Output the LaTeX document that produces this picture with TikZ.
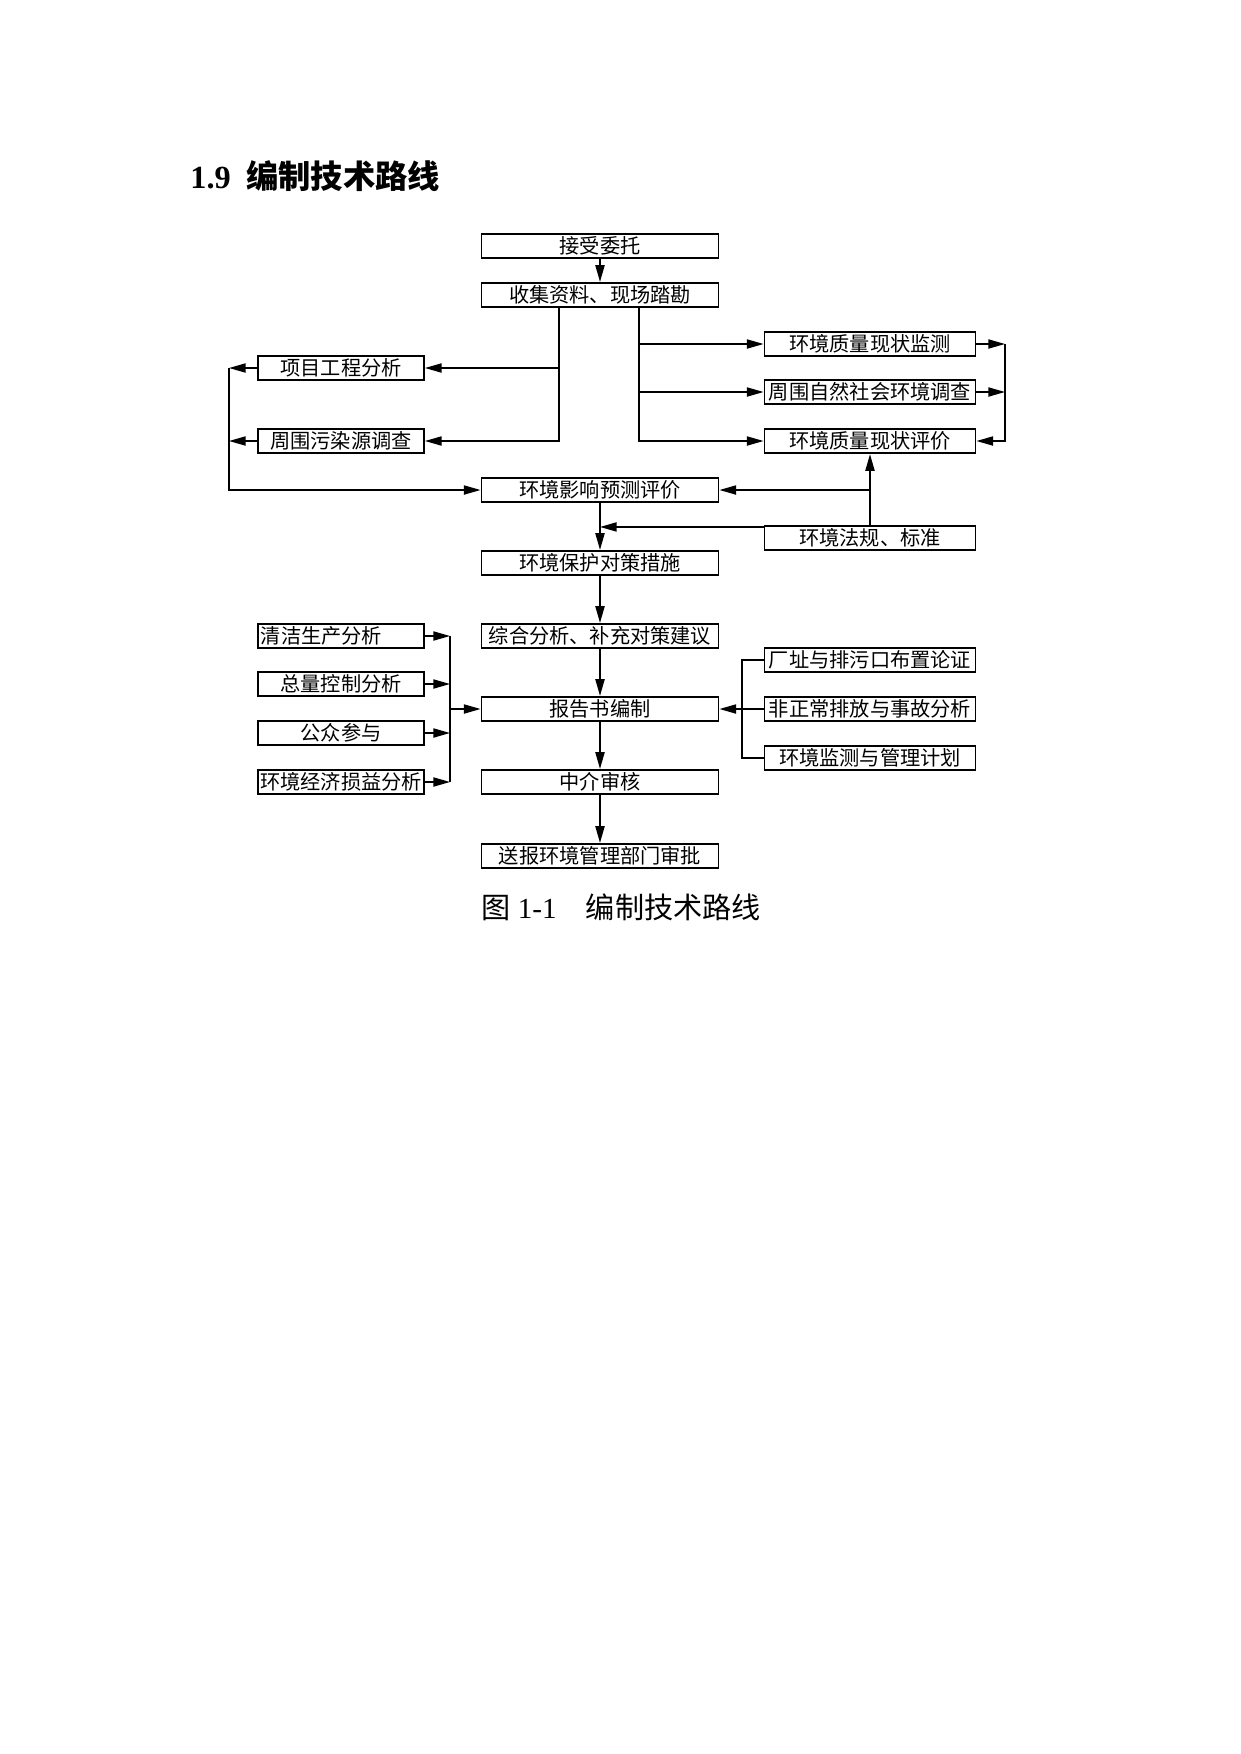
\documentclass[tikz,border=0pt]{standalone}
\usepackage{fontspec}
\setmainfont{Liberation Serif}
\newfontfamily\cjk{Noto Sans CJK SC}
\usetikzlibrary{arrows.meta}
\begin{document}
\begin{tikzpicture}[x=0.48pt,y=-0.48pt,
    box/.style={draw,line width=0.9pt,minimum height=11.7pt,inner sep=0pt,font=\cjk\fontsize{9.7}{11}\selectfont},
    cbox/.style={box,minimum width=113.8pt},
    lbox/.style={box,minimum width=79.7pt},
    rbox/.style={box,minimum width=101.3pt},
    link/.style={line width=0.7pt},
    >={Triangle[length=8pt,width=4.4pt]}]
    \useasboundingbox (0,0) rectangle (1241,1754);
    \node[anchor=west,inner sep=0pt,font=\fontsize{15.5}{18}\selectfont\bfseries] (title) at (190,176) {1.9\hspace{7.5pt}{\cjk 编制技术路线}};
    \node[cbox] (jswt) at (600,246) {接受委托};
    \node[cbox] (sjzl) at (600,295) {收集资料、现场踏勘};
    \node[lbox] (xmgc) at (341,368) {项目工程分析};
    \node[lbox] (wry) at (341,441) {周围污染源调查};
    \node[rbox] (zljc) at (870,344) {环境质量现状监测};
    \node[rbox] (zrsh) at (870,392) {周围自然社会环境调查};
    \node[rbox] (zlpj) at (870,441) {环境质量现状评价};
    \node[cbox] (yxyc) at (600,490) {环境影响预测评价};
    \node[rbox] (fgbz) at (870,538) {环境法规、标准};
    \node[cbox] (bhcs) at (600,563) {环境保护对策措施};
    \node[cbox] (zhfx) at (600,636) {综合分析、补充对策建议};
    \node[cbox] (bgs) at (600,709) {报告书编制};
    \node[cbox] (zjsh) at (600,782) {中介审核};
    \node[cbox] (sbsp) at (600,856) {送报环境管理部门审批};
    \node[lbox,text width=77pt,align=left,inner xsep=1.3pt] (qjsc) at (341,636) {清洁生产分析};
    \node[lbox] (zlkz) at (341,684) {总量控制分析};
    \node[lbox] (gzcy) at (341,733) {公众参与};
    \node[lbox] (jjsy) at (341,782) {环境经济损益分析};
    \node[rbox] (czlz) at (870,660) {厂址与排污口布置论证};
    \node[rbox] (fzc) at (870,709) {非正常排放与事故分析};
    \node[rbox] (jchj) at (870,758) {环境监测与管理计划};
    \node[anchor=west,inner sep=0pt,font=\fontsize{14}{16}\selectfont] (cap) at (481,907) {{\cjk 图}\hspace{3.5pt}1-1\hspace{14pt}{\cjk 编制技术路线}};
    \coordinate (bl) at (559,0);
    \coordinate (br) at (639,0);
    \coordinate (ol) at (229,0);
    \coordinate (rr) at (1005,0);
    \coordinate (lb) at (450,0);
    \coordinate (rb) at (742,0);
    \coordinate (fg) at ([yshift=-1pt]fgbz.north west);
    \draw[link,->] (jswt) -- (sjzl);
    \draw[link,->] (sjzl.south -| bl) |- (wry);
    \draw[link,->] (bl |- xmgc) -- (xmgc);
    \draw[link,->] (xmgc) -- (xmgc -| ol);
    \draw[link,->] (wry) -- (wry -| ol);
    \draw[link,->] (xmgc -| ol) |- (yxyc);
    \draw[link,->] (sjzl.south -| br) |- (zlpj);
    \draw[link,->] (br |- zljc) -- (zljc);
    \draw[link,->] (br |- zrsh) -- (zrsh);
    \draw[link,->] (zljc) -- (zljc -| rr);
    \draw[link,->] (zrsh) -- (zrsh -| rr);
    \draw[link,->] (zljc -| rr) |- (zlpj);
    \draw[link,->] (fgbz) -- (zlpj);
    \draw[link,->] (fgbz |- yxyc) -- (yxyc);
    \draw[link,->] (fg) -- (fg -| bhcs);
    \foreach \a/\b in {yxyc/bhcs,bhcs/zhfx,zhfx/bgs,bgs/zjsh,zjsh/sbsp}
        \draw[link,->] (\a) -- (\b);
    \foreach \n in {qjsc,zlkz,gzcy,jjsy}
        \draw[link,->] (\n) -- (\n -| lb);
    \draw[link] (qjsc -| lb) -- (jjsy -| lb);
    \draw[link,->] (lb |- bgs) -- (bgs);
    \draw[link] (czlz) -| (rb |- jchj) -- (jchj);
    \draw[link,->] (fzc) -- (bgs);
\end{tikzpicture}
\end{document}
